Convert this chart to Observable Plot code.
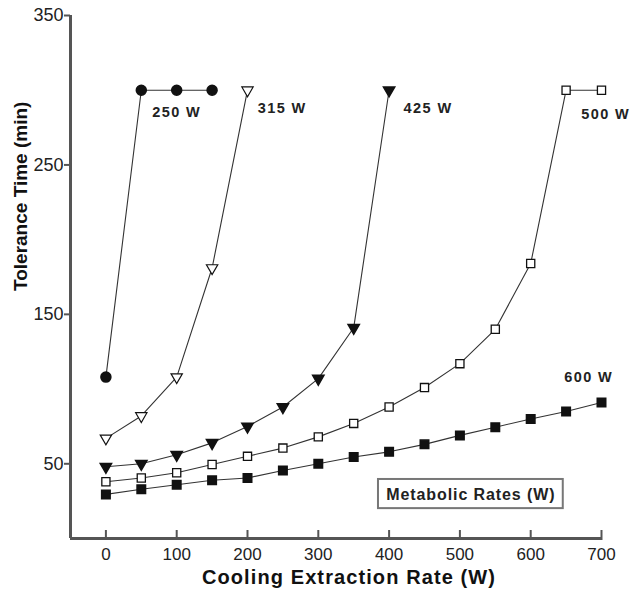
<!DOCTYPE html>
<html><head><meta charset="utf-8">
<script src="https://cdn.jsdelivr.net/npm/d3@7"></script>
<script src="https://cdn.jsdelivr.net/npm/@observablehq/plot@0.6"></script>
<style>
body{margin:0;background:#fff;}
#chart{width:634px;height:590px;}
</style></head><body><div id="chart"></div>
<script>
// Cooling extraction rate (W) and tolerance time (min) per metabolic rate
const x250 = [0, 50, 100, 150];
const y250 = [108, 300, 300, 300];
const x315 = [0, 50, 100, 150, 200];
const y315 = [67, 82, 108, 181, 300];
const x425 = [0, 50, 100, 150, 200, 250, 300, 350, 400];
const y425 = [48, 50, 56, 64, 75, 88, 107, 141, 300];
const x500 = [0, 50, 100, 150, 200, 250, 300, 350, 400, 450, 500, 550, 600, 650, 700];
const y500 = [38, 40.5, 44, 49.5, 55, 60.5, 68, 77, 88, 101, 117, 140, 184, 300, 300];
const x600 = [0, 50, 100, 150, 200, 250, 300, 350, 400, 450, 500, 550, 600, 650, 700];
const y600 = [29.5, 33, 36, 39, 40.5, 45.5, 50, 54.5, 58, 63, 69, 74.5, 80, 85, 91];

const seriesNames = ["250 W", "315 W", "425 W", "500 W", "600 W"];
// label anchor positions in data units
const labelX = [100, 249, 455, 706, 682];
const labelY = [285, 288, 288, 284, 108];

const xTicks = [0, 100, 200, 300, 400, 500, 600, 700];
const yTicks = [50, 150, 250, 350];
const xDomain = [-50, 700];
const yDomain = [0, 350];

const legendText = "Metabolic Rates (W)";
const legendBox = {x1: 385, x2: 646, y1: 20, y2: 39.5, xc: 515.5, yc: 29.5};

const xTitle = "Cooling Extraction Rate (W)";
const yTitle = "Tolerance Time (min)";

const seriesX = [x250, x315, x425, x500, x600];
const seriesY = [y250, y315, y425, y500, y600];
const rows = [];
seriesNames.forEach((s, i) => seriesX[i].forEach((x, j) => rows.push({series: s, x, y: seriesY[i][j]})));
const bySeries = s => rows.filter(d => d.series === s);
const labels = seriesNames.map((s, i) => ({text: s, x: labelX[i], y: labelY[i]}));

const triDown = {
  draw(ctx, size) {
    const a = Math.sqrt(4 * size / Math.sqrt(3));
    const h = a * Math.sqrt(3) / 2;
    ctx.moveTo(-a / 2, -h / 3);
    ctx.lineTo(a / 2, -h / 3);
    ctx.lineTo(0, 2 * h / 3);
    ctx.closePath();
  }
};

const ink = "#111";
const axisColor = "#555";

const chart = Plot.plot({
  width: 634,
  height: 590,
  marginLeft: 70,
  marginRight: 33,
  marginTop: 15,
  marginBottom: 52,
  style: {fontFamily: "Liberation Sans, Arial, Helvetica, sans-serif", background: "white", color: "#222"},
  x: {domain: xDomain},
  y: {domain: yDomain},
  marks: [
    Plot.axisY({ticks: yTicks, tickSize: 6, tickPadding: 1, fontSize: 18, label: null, stroke: axisColor, strokeWidth: 2}),
    Plot.axisX({ticks: xTicks, tickSize: 0, tickPadding: 9, fontSize: 17, label: null}),
    Plot.ruleX(xTicks, {x: d => d, y1: 0, y2: 0, insetTop: -8, insetBottom: -2, stroke: axisColor, strokeWidth: 2}),
    Plot.ruleY([yDomain[0]], {x1: xDomain[0], x2: xDomain[1], stroke: axisColor, strokeWidth: 3}),
    Plot.ruleX([xDomain[0]], {y1: yDomain[0], y2: yDomain[1], stroke: axisColor, strokeWidth: 3}),
    Plot.line(rows, {x: "x", y: "y", z: "series", stroke: "#333", strokeWidth: 1.1}),
    Plot.dot(bySeries("250 W"), {x: "x", y: "y", r: 5, symbol: "circle", fill: ink, stroke: ink}),
    Plot.dot(bySeries("315 W"), {x: "x", y: "y", r: 4.2, symbol: triDown, fill: "white", stroke: ink, strokeWidth: 1.2}),
    Plot.dot(bySeries("425 W"), {x: "x", y: "y", r: 4.2, symbol: triDown, fill: ink, stroke: ink}),
    Plot.dot(bySeries("500 W"), {x: "x", y: "y", r: 4.6, symbol: "square", fill: "white", stroke: ink, strokeWidth: 1.3}),
    Plot.dot(bySeries("600 W"), {x: "x", y: "y", r: 4.8, symbol: "square", fill: ink, stroke: ink}),
    Plot.text(labels, {x: "x", y: "y", text: "text", fontSize: 14.5, fontWeight: "bold", fill: "#222"}),
    Plot.rect([legendBox], {x1: "x1", x2: "x2", y1: "y1", y2: "y2", fill: "white", stroke: "#777", strokeWidth: 2}),
    Plot.text([legendBox], {x: "xc", y: "yc", text: () => legendText, fontSize: 16, fontWeight: "bold", fill: "#222"}),
    Plot.text([yTitle], {frameAnchor: "left", dx: -50, dy: 14, rotate: -90, fontSize: 19, fontWeight: "bold", fill: "#111", text: d => d}),
    Plot.text([xTitle], {frameAnchor: "bottom", dy: 45, dx: 13, fontSize: 20, fontWeight: "bold", fill: "#111", text: d => d})
  ]
});
document.getElementById("chart").appendChild(chart);
const svg = d3.select(chart);
const spacing = new Map([[xTitle, "1.1px"], [legendText, "0.9px"]]);
seriesNames.forEach(s => spacing.set(s, "1.4px"));
svg.selectAll("text").each(function() {
  const t = this.textContent;
  if (spacing.has(t)) this.style.letterSpacing = spacing.get(t);
});
</script></body></html>
